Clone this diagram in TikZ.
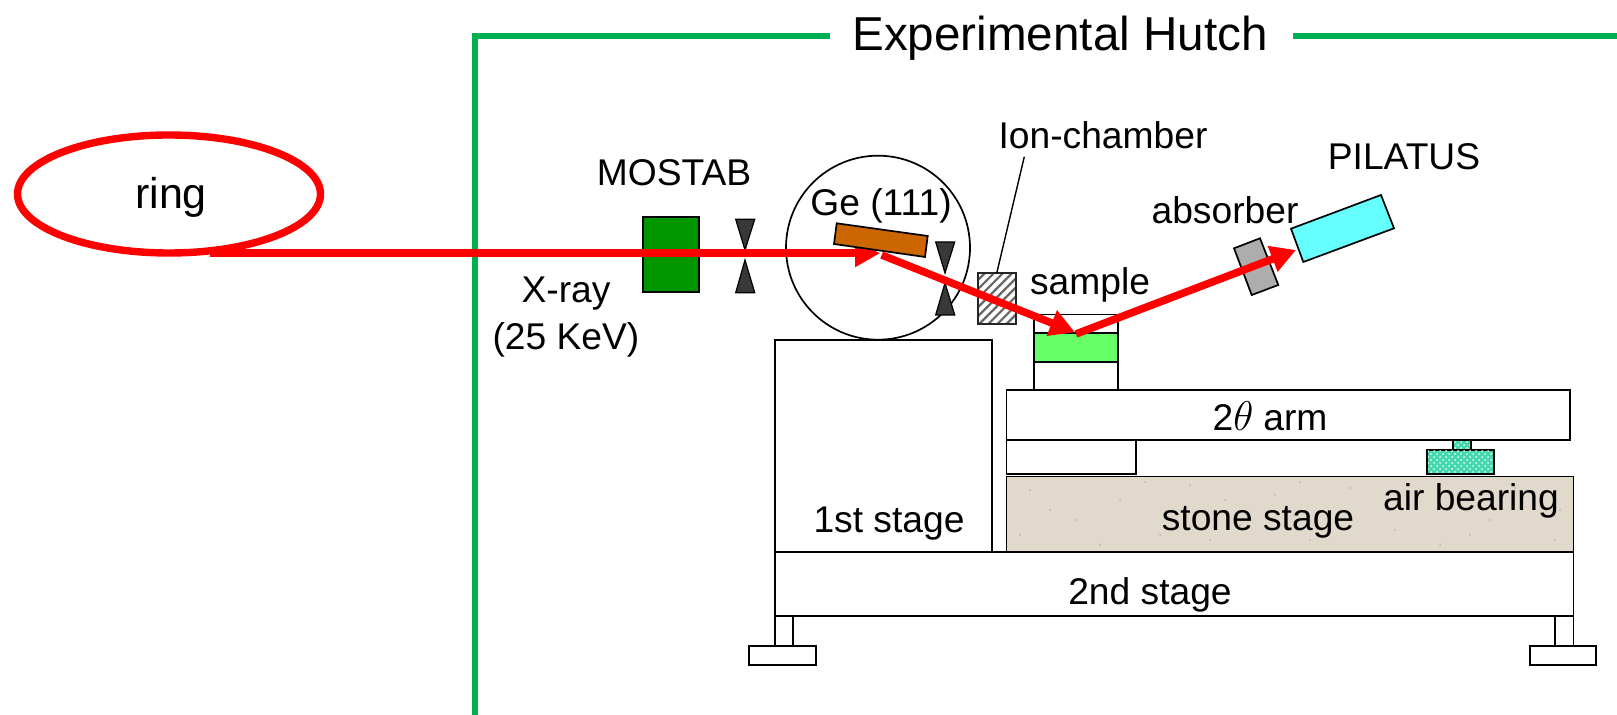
\documentclass[tikz,border=0pt]{standalone}
\usepackage{fontspec}
\setmainfont{Liberation Sans}
\usetikzlibrary{arrows.meta,patterns,patterns.meta}
\definecolor{beamred}{HTML}{FF0000}
\definecolor{hutch}{HTML}{00B050}
\definecolor{stonec}{HTML}{E0D9CC}
\definecolor{airc}{HTML}{45D8AE}
\tikzset{
  part/.style={draw=black,line width=0.85pt,fill=white},
  label/.style={font=\fontsize{18.6}{23.5}\selectfont,inner sep=0pt,align=center},
  beam/.style={draw=beamred,line width=3.8pt,-{Triangle[length=12.5pt,width=13pt,fill=beamred]}},
  slit/.style={draw=black,line width=0.6pt,fill=black!78},
  wall/.style={draw=hutch,line width=2.6pt},
}
\begin{document}
\begin{tikzpicture}[x=0.5pt,y=-0.5pt]
\useasboundingbox (0,0) rectangle (1617,715);
% hutch wall
\draw[wall] (1617,36) -- (1293,36);
\draw[wall] (830,36) -- (475,36) -- (475,715);
\node[font=\fontsize{23.8}{28}\selectfont,inner sep=0pt] (hutchlabel) at (1060,38) {Experimental Hutch};
% ring
\draw[draw=beamred,line width=3.7pt] (169,194) ellipse [x radius=151.5,y radius=59];
\node[font=\fontsize{21.5}{26}\selectfont,inner sep=0pt] (ring) at (171,197) {ring};
% stages
\draw[part] (775,340) rectangle (992,552);
\draw[part] (775,552) rectangle (1573.5,616);
\draw[part] (775,616) rectangle (793,646);
\draw[part] (749,646) rectangle (816,665);
\draw[part] (1555,616) rectangle (1573.5,646);
\draw[part] (1530,646) rectangle (1596,665);
\draw[part,fill=stonec] (1006.5,476.5) rectangle (1573.5,552);
\foreach \a/\b in {1030/490,1075/520,1120/500,1160/535,1190/485,1240/525,1275/495,1310/540,1350/488,1395/530,1440/545,1490/520,1540/495,1555/540,1100/545,1210/540,1050/510,1145/482,1225/500,1330/515,1420/490,1515/488,1560/510,1020/535,1300/482,1470/535}
  \fill[black!28] (\a,\b) circle (1);
\draw[part] (1006.5,440) rectangle (1136,474);
\draw[part] (1006.5,390) rectangle (1570,440);
\draw[part,fill=airc] (1453,440) rectangle (1471,450);
\draw[part,fill=airc] (1427,450) rectangle (1494,474);
\fill[pattern=crosshatch dots,pattern color=white!85!airc] (1428,451) rectangle (1493,473);
\fill[pattern=crosshatch dots,pattern color=white!85!airc] (1454,441) rectangle (1470,449);
% sample holder
\draw[part] (1034,314.5) rectangle (1118,390);
\draw[part,fill=green!60] (1034,333) rectangle (1118,362);
% monochromator circle
\draw[part,fill=none] (878,247.7) circle (92);
% MOSTAB
\draw[part,fill={rgb,255:red,0;green,150;blue,0}] (642.7,217) rectangle (698.7,292);
% slits
\draw[slit] (735.7,219.3) -- (754.7,219.3) -- (745,250) -- cycle;
\draw[slit] (735.7,292.7) -- (754.7,292.7) -- (745,260) -- cycle;
\draw[slit] (935.7,242) -- (954.7,242) -- (945,273) -- cycle;
\draw[slit] (935.7,315) -- (954.7,315) -- (945,283) -- cycle;
% ion chamber
\draw[part,fill=white] (978,273.3) rectangle (1016,324);
\fill[pattern={Lines[angle=45,distance=3.2pt,line width=1.1pt]},pattern color=black!60] (978,273.3) rectangle (1016,324);
\draw[draw=black!85,line width=0.85pt] (978,273.3) rectangle (1016,324);
\node[label] (ion) at (1103,135) {Ion-chamber};
\coordinate (ionlead) at (1024.3,156.7);
\coordinate (iontop) at (996.7,273.3);
\draw[black,line width=0.7pt] (ionlead) -- (iontop);
% absorber
\draw[part,fill=black!32] (1234,248.3) -- (1260,238.3) -- (1278.3,285) -- (1251.7,295) -- cycle;
% beams
\coordinate (b0) at (210,253.3);
\coordinate (b1) at (880,253.3);
\coordinate (b2) at (881.7,255);
\coordinate (b3) at (1075,332.3);
\coordinate (b4) at (1076,334);
\coordinate (b5) at (1296,250);
\draw[beam] (b0) -- (b1);
\draw[part,fill={rgb,255:red,204;green,102;blue,0}] (836.7,223.3) -- (927.7,236) -- (925,257) -- (834,244) -- cycle;
\draw[beam] (b2) -- (b3);
\draw[beam] (b4) -- (b5);
% detector
\draw[part,fill={rgb,255:red,102;green,255;blue,255}] (1291,228.7) -- (1381,195) -- (1394,228.3) -- (1303.3,262) -- cycle;
% labels
\node[label] (mostab) at (674,173) {MOSTAB};
\node[label] (xray) at (566,317) {X-ray\\(25 KeV)};
\node[label] (ge) at (881,206) {Ge (111)};
\node[label] (pilatus) at (1404,157) {PILATUS};
\node[label] (absorber) at (1225,210) {absorber};
\node[label] (sample) at (1090,285) {sample};
\node[label] (arm) at (1270,416) {2{\fontsize{21}{25}\selectfont$\theta$}\kern5pt arm};
\node[label] (stone) at (1258,522) {stone stage};
\node[label] (air) at (1471,501) {air bearing};
\node[label] (first) at (889,524) {1st stage};
\node[label] (second) at (1150,595) {2nd stage};
\end{tikzpicture}
\end{document}
